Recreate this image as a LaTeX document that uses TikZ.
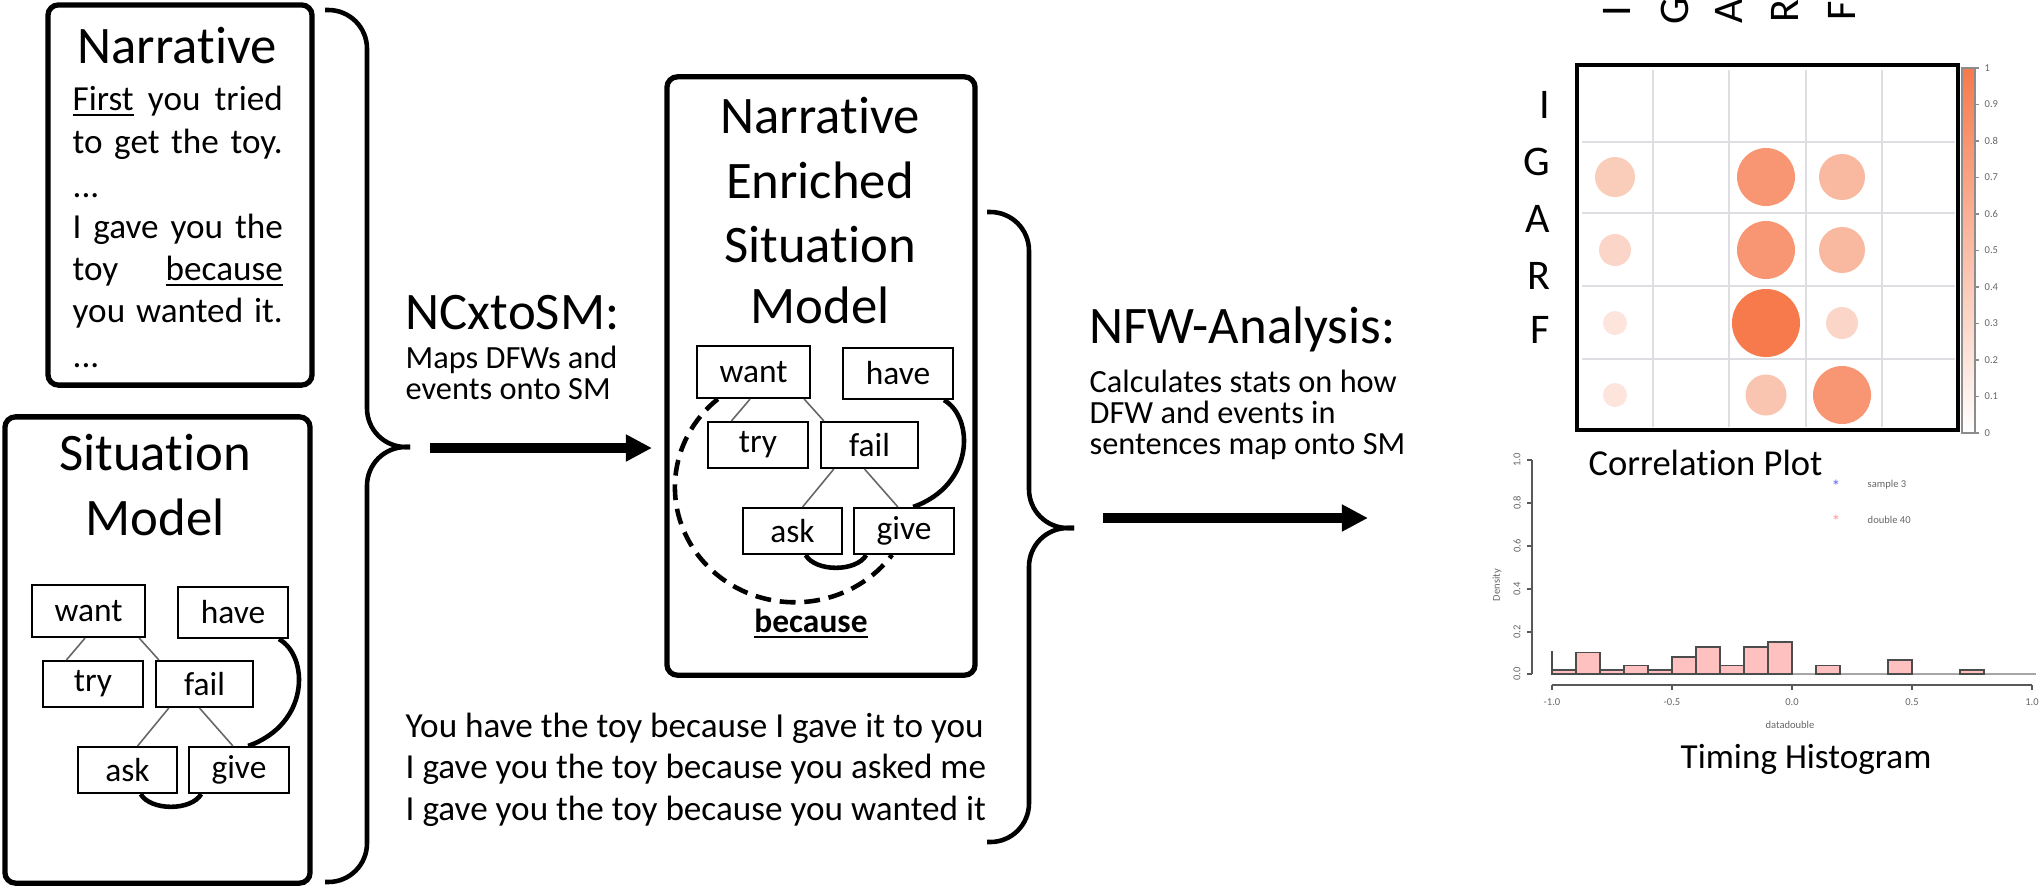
\documentclass[tikz,border=0pt]{standalone}
\usepackage{fontspec}
\setmainfont{Carlito}[Ligatures=NoCommon]
\usetikzlibrary{arrows.meta,calc}
\definecolor{cA}{RGB}{246,122,76}
\definecolor{cB}{RGB}{248,150,115}
\definecolor{cC}{RGB}{249,185,160}
\definecolor{cD}{RGB}{250,204,186}
\definecolor{cE}{RGB}{251,214,200}
\definecolor{cF}{RGB}{253,228,220}
\definecolor{cG}{RGB}{249,196,176}
\definecolor{barpink}{RGB}{255,192,192}
\definecolor{gridc}{RGB}{222,222,226}
\newcommand{\smgraph}[1]{%
  \node[ev, minimum width=1.13cm, minimum height=0.52cm] (#1want) at (88.5,611) {want};
  \node[ev, minimum width=1.10cm, minimum height=0.51cm] (#1have) at (233,612.5) {have};
  \node[ev, minimum width=1.00cm, minimum height=0.46cm] (#1try) at (93,684) {try};
  \node[ev, minimum width=0.97cm, minimum height=0.46cm] (#1fail) at (204.5,684) {fail};
  \node[ev, minimum width=0.99cm, minimum height=0.46cm] (#1ask) at (127.5,770) {ask};
  \node[ev, minimum width=1.00cm, minimum height=0.46cm] (#1give) at (239,770) {give};
  \draw[link] ($(#1want.south west)!0.47!(#1want.south east)$) -- ($(#1try.north west)!0.24!(#1try.north east)$);
  \draw[link] ($(#1want.south west)!0.94!(#1want.south east)$) -- ($(#1fail.north west)!0.04!(#1fail.north east)$);
  \draw[link] ($(#1fail.south west)!0.14!(#1fail.south east)$) -- ($(#1ask.north west)!0.60!(#1ask.north east)$);
  \draw[link] ($(#1fail.south west)!0.45!(#1fail.south east)$) -- ($(#1give.north west)!0.44!(#1give.north east)$);
  \draw[bond] ($(#1have.south west)!0.91!(#1have.south east)$) .. controls +(30,17) and +(62,-22) .. ($(#1give.north west)!0.59!(#1give.north east)$);
  \draw[bond] ($(#1ask.south west)!0.63!(#1ask.south east)$) .. controls +(10,17) and +(-10,17) .. ($(#1give.south west)!0.13!(#1give.south east)$);
}
\begin{document}
\begin{tikzpicture}[x=0.01cm,y=-0.01cm,
  bigbox/.style={draw, line width=1.5pt, rounded corners=3pt, inner sep=0pt},
  ev/.style={draw, line width=0.6pt, fill=white, inner sep=0pt, font=\fontsize{9.5pt}{11pt}\selectfont},
  link/.style={draw=black!60, line width=0.45pt},
  bond/.style={line width=1.3pt},
  dasharc/.style={line width=1.3pt, dash pattern=on 4.5pt off 2.5pt},
  brace/.style={line width=1.3pt, rounded corners=11pt},
  bigarrow/.style={line width=2.6pt, -{Triangle[length=7.4pt,width=7.2pt]}},
  titlef/.style={font=\fontsize{15pt}{17.5pt}\selectfont, inner sep=0pt},
  bodyf/.style={font=\fontsize{10pt}{12pt}\selectfont, inner sep=0pt, anchor=base west},
  smallf/.style={font=\fontsize{9.2pt}{11pt}\selectfont, inner sep=0pt, anchor=base west},
  sentf/.style={font=\fontsize{10pt}{12pt}\selectfont, inner sep=0pt, anchor=base west},
  capf/.style={font=\fontsize{10pt}{12pt}\selectfont, inner sep=0pt, anchor=base west},
  axl/.style={font=\fontsize{12pt}{14pt}\selectfont, inner sep=0pt},
  tinyf/.style={font=\fontsize{3pt}{3.5pt}\selectfont, inner sep=0pt, text=black!60},
  gridl/.style={draw=gridc, line width=0.5pt},
  axisline/.style={draw=black!65, line width=0.5pt},
  histbar/.style={fill=barpink, draw=black!70, line width=0.45pt}
]
\useasboundingbox (0,0) rectangle (2041,887);

% ---------- big boxes ----------
\node[bigbox, minimum width=2.64cm, minimum height=3.80cm] (narrbox) at (180,195) {};
\node[bigbox, minimum width=3.05cm, minimum height=4.66cm] (smbox) at (157.5,650) {};
\node[bigbox, minimum width=3.08cm, minimum height=5.98cm] (nesmbox) at (821,376) {};

% ---------- Narrative box ----------
\node[titlef, anchor=base] (narrtitle) at (177,63) {Narrative};
\node[bodyf] (nl1) at (72,110) {\makebox[2.1cm][s]{\underline{First} you tried}};
\node[bodyf] (nl2) at (72,153) {\makebox[2.1cm][s]{to get the toy.}};
\node[bodyf] (nl3) at (72,197) {...};
\node[bodyf] (nl4) at (72,238) {\makebox[2.1cm][s]{I gave you the}};
\node[bodyf] (nl5) at (72,280) {\makebox[2.1cm][s]{toy \underline{because}}};
\node[bodyf] (nl6) at (72,322) {\makebox[2.1cm][s]{you wanted it.}};
\node[bodyf] (nl7) at (72,367) {...};

% ---------- Situation Model box ----------
\node[titlef, anchor=base] (smt1) at (155,470) {Situation};
\node[titlef, anchor=base] (smt2) at (155,535) {Model};
\smgraph{l-}

% ---------- Narrative Enriched Situation Model box ----------
\node[titlef, anchor=base] (nt1) at (820,133) {Narrative};
\node[titlef, anchor=base] (nt2) at (820,198) {Enriched};
\node[titlef, anchor=base] (nt3) at (820,262) {Situation};
\node[titlef, anchor=base] (nt4) at (820,323) {Model};
\begin{scope}[shift={(665,-239)}]
  \smgraph{r-}
\end{scope}
\draw[dasharc] ($(r-want.south west)!0.19!(r-want.south east)$) arc[start angle=130, end angle=324, x radius=1.2cm, y radius=1.15cm];
\node[anchor=base, inner sep=0pt, font=\fontsize{9.5pt}{11pt}\selectfont\bfseries] (because) at (811,632) {\underline{because}};

% ---------- braces ----------
\coordinate (lbtop) at (325,10);
\coordinate (lbtip) at (410,447);
\coordinate (lbbot) at (325,882);
\draw[brace] (lbtop) -- (367,10) -- (367,447) -- (lbtip);
\draw[brace] (lbbot) -- (367,882) -- (367,447) -- (lbtip);
\coordinate (rbtop) at (987,212);
\coordinate (rbtip) at (1074,528);
\coordinate (rbbot) at (987,842);
\draw[brace] (rbtop) -- (1029,212) -- (1029,528) -- (rbtip);
\draw[brace] (rbbot) -- (1029,842) -- (1029,528) -- (rbtip);

% ---------- arrows ----------
\coordinate (a1s) at (430,448);
\coordinate (a1e) at (652,448);
\draw[bigarrow] (a1s) -- (a1e);
\coordinate (a2s) at (1103,518);
\coordinate (a2e) at (1368,518);
\draw[bigarrow] (a2s) -- (a2e);

% ---------- labels of the steps ----------
\node[titlef, anchor=base west] (ncx) at (405,329) {NCxtoSM:};
\node[smallf] (ncx1) at (405,368) {Maps DFWs and};
\node[smallf] (ncx2) at (405,399) {events onto SM};
\node[titlef, anchor=base west] (nfw) at (1089,343) {NFW-Analysis:};
\node[smallf] (nfw1) at (1089,392) {Calculates stats on how};
\node[smallf] (nfw2) at (1089,423) {DFW and events in};
\node[smallf] (nfw3) at (1089,454) {sentences map onto SM};

% ---------- sentences ----------
\node[sentf] (s1) at (405,737) {You have the toy because I gave it to you};
\node[sentf] (s2) at (405,778) {I gave you the toy because you asked me};
\node[sentf] (s3) at (405,820) {I gave you the toy because you wanted it};

% ---------- correlation plot ----------
\foreach \x in {1653,1729,1806,1882} \draw[gridl] (\x,70) -- (\x,427);
\foreach \y in {142,213,286,359} \draw[gridl] (1582,\y) -- (1955,\y);
\fill[cD] (1615,177) circle[radius=0.20cm];
\fill[cB] (1766,177) circle[radius=0.29cm];
\fill[cC] (1842,177) circle[radius=0.23cm];
\fill[cE] (1615,250) circle[radius=0.16cm];
\fill[cB] (1766,250) circle[radius=0.29cm];
\fill[cC] (1842,250) circle[radius=0.23cm];
\fill[cF] (1615,323) circle[radius=0.12cm];
\fill[cA] (1766,323) circle[radius=0.34cm];
\fill[cE] (1842,323) circle[radius=0.16cm];
\fill[cF] (1615,395) circle[radius=0.12cm];
\fill[cG] (1766,395) circle[radius=0.205cm];
\fill[cB] (1842,395) circle[radius=0.29cm];
\draw[line width=0.9pt] (1577,65) rectangle (1958,430);
\shade[top color=cA, bottom color=white] (1962,68) rectangle (1975,433);
\draw[black!45, line width=0.3pt] (1962,68) rectangle (1975,433);
\foreach \v [count=\i from 0] in {1,0.9,0.8,0.7,0.6,0.5,0.4,0.3,0.2,0.1,0} {
  \pgfmathsetmacro\yy{68+36.5*\i}
  \draw[black!45, line width=0.3pt] (1975,\yy) -- (1979,\yy);
  \node[tinyf, anchor=west] (cb\i) at (1984,\yy) {\v};
}
\node[axl, anchor=base east] (rI) at (1551,118) {I};
\node[axl, anchor=base east] (rG) at (1551,175) {G};
\node[axl, anchor=base east] (rA) at (1551,232) {A};
\node[axl, anchor=base east] (rR) at (1551,289) {R};
\node[axl, anchor=base east] (rF) at (1551,343) {F};
\node[axl, rotate=90] (cI) at (1617,11) {I};
\node[axl, rotate=90] (cG) at (1675,11) {G};
\node[axl, rotate=90] (cA) at (1729,11) {A};
\node[axl, rotate=90] (cR) at (1785,11) {R};
\node[axl, rotate=90] (cF) at (1842,11) {F};
\node[capf, font=\fontsize{10.4pt}{12.5pt}\selectfont] (corrcap) at (1588,475) {Correlation Plot};

% ---------- histogram ----------
\draw[axisline] (1532,460) -- (1532,674);
\foreach \yv/\lab [count=\i] in {460/1.0,503/0.8,546/0.6,589/0.4,632/0.2,674/0.0} {
  \draw[axisline] (1527,\yv) -- (1532,\yv);
  \node[tinyf, rotate=90] (hy\i) at (1517,\yv) {\lab};
}
\node[tinyf, rotate=90] (dens) at (1497,585) {Density};
\draw[draw=black!35, line width=0.5pt] (1552,674) -- (2036,674);
\foreach \a/\h in {-1.0/0.02,-0.9/0.10,-0.8/0.02,-0.7/0.04,-0.6/0.02,-0.5/0.08,-0.4/0.125,-0.3/0.04,-0.2/0.125,-0.1/0.15,0.1/0.04,0.4/0.065,0.7/0.02} {
  \pgfmathsetmacro\xa{1552+(\a+1)*240}
  \pgfmathsetmacro\xb{\xa+24}
  \pgfmathsetmacro\yt{674-\h*214}
  \filldraw[histbar] (\xa,674) rectangle (\xb,\yt);
}
\draw[black!70, line width=0.5pt] (1552,651) -- (1552,674);
\draw[axisline] (1552,685) -- (2032,685);
\foreach \xv/\lab [count=\i] in {1552/-1.0,1672/-0.5,1792/0.0,1912/0.5,2032/1.0} {
  \draw[axisline] (\xv,685) -- (\xv,690);
  \node[tinyf] (hx\i) at (\xv,702) {\lab};
}
\node[tinyf] (xlab) at (1790,725) {datadouble};
\node[tinyf, text=blue!60, font=\fontsize{5pt}{5pt}\selectfont] (lg1s) at (1836,486) {*};
\node[tinyf, anchor=west] (lg1) at (1867,485) {sample 3};
\node[tinyf, text=red!40, font=\fontsize{5pt}{5pt}\selectfont] (lg2s) at (1836,521) {*};
\node[tinyf, anchor=west] (lg2) at (1867,520) {double 40};
\node[capf] (histcap) at (1680,768) {Timing Histogram};
\end{tikzpicture}
\end{document}
